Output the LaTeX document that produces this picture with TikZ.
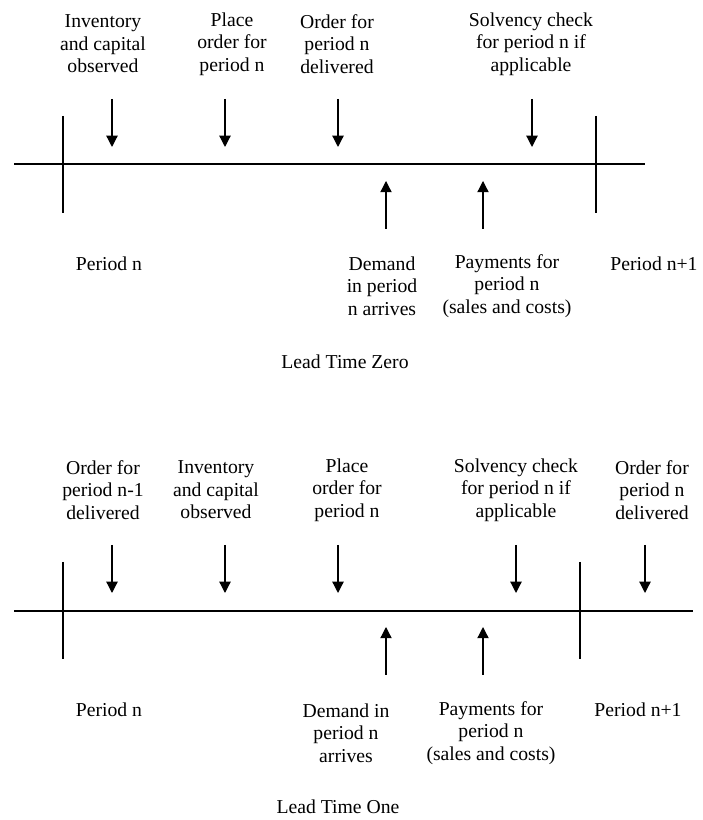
\documentclass[tikz,border=0pt]{standalone}
\usepackage{fontspec}
\setmainfont{Liberation Serif}
\usetikzlibrary{arrows.meta}

\begin{document}
\begin{tikzpicture}[
    lbl/.style={align=center,font=\fontsize{14pt}{16pt}\selectfont,inner sep=0pt},
    evt/.style={line width=0.9pt,-{Triangle[width=8pt,length=8pt]}},
    axis/.style={line width=0.9pt}
  ]
  \useasboundingbox (0,0) rectangle (17.55,20.5);

  % lead time zero
  \draw[axis] (0.35,16.4) -- (16.125,16.4);
  \draw[axis] (1.575,17.6) -- (1.575,15.175);
  \draw[axis] (14.9,17.6) -- (14.9,15.175);

  \draw[evt] (2.8,18.025) -- (2.8,16.825);
  \draw[evt] (5.625,18.025) -- (5.625,16.825);
  \draw[evt] (8.45,18.025) -- (8.45,16.825);
  \draw[evt] (13.3,18.025) -- (13.3,16.825);
  \draw[evt] (9.65,14.775) -- (9.65,15.975);
  \draw[evt] (12.075,14.775) -- (12.075,15.975);

  \node[lbl] (zobs) at (2.575,19.4) {Inventory\\and capital\\observed};
  \node[lbl] (zplace) at (5.8,19.4) {Place\\order for\\period n};
  \node[lbl] (zdeliv) at (8.425,19.4) {Order for\\period n\\delivered};
  \node[lbl] (zsolv) at (13.275,19.4) {Solvency check\\for period n if\\applicable};
  \node[lbl] (zper) at (2.725,13.9) {Period n};
  \node[lbl] (zdem) at (9.55,13.35) {Demand\\in period\\n arrives};
  \node[lbl] (zpay) at (12.675,13.35) {Payments for\\period n\\(sales and costs)};
  \node[lbl] (znext) at (16.35,13.9) {Period n+1};
  \node[lbl] (ztitle) at (8.625,11.45) {Lead Time Zero};

  % lead time one
  \draw[axis] (0.35,5.225) -- (17.325,5.225);
  \draw[axis] (1.575,6.45) -- (1.575,4.025);
  \draw[axis] (14.5,6.45) -- (14.5,4.025);

  \draw[evt] (2.8,6.875) -- (2.8,5.675);
  \draw[evt] (5.625,6.875) -- (5.625,5.675);
  \draw[evt] (8.45,6.875) -- (8.45,5.675);
  \draw[evt] (12.9,6.875) -- (12.9,5.675);
  \draw[evt] (16.125,6.875) -- (16.125,5.675);
  \draw[evt] (9.65,3.625) -- (9.65,4.825);
  \draw[evt] (12.075,3.625) -- (12.075,4.825);

  \node[lbl] (odeliv) at (2.575,8.25) {Order for\\period n-1\\delivered};
  \node[lbl] (oobs) at (5.4,8.25) {Inventory\\and capital\\observed};
  \node[lbl] (oplace) at (8.675,8.25) {Place\\order for\\period n};
  \node[lbl] (osolv) at (12.9,8.25) {Solvency check\\for period n if\\applicable};
  \node[lbl] (onext) at (16.3,8.25) {Order for\\period n\\delivered};
  \node[lbl] (oper) at (2.725,2.75) {Period n};
  \node[lbl] (odem) at (8.65,2.175) {Demand in\\period n\\arrives};
  \node[lbl] (opay) at (12.275,2.175) {Payments for\\period n\\(sales and costs)};
  \node[lbl] (onextper) at (15.95,2.75) {Period n+1};
  \node[lbl] (otitle) at (8.45,0.325) {Lead Time One};
\end{tikzpicture}
\end{document}
